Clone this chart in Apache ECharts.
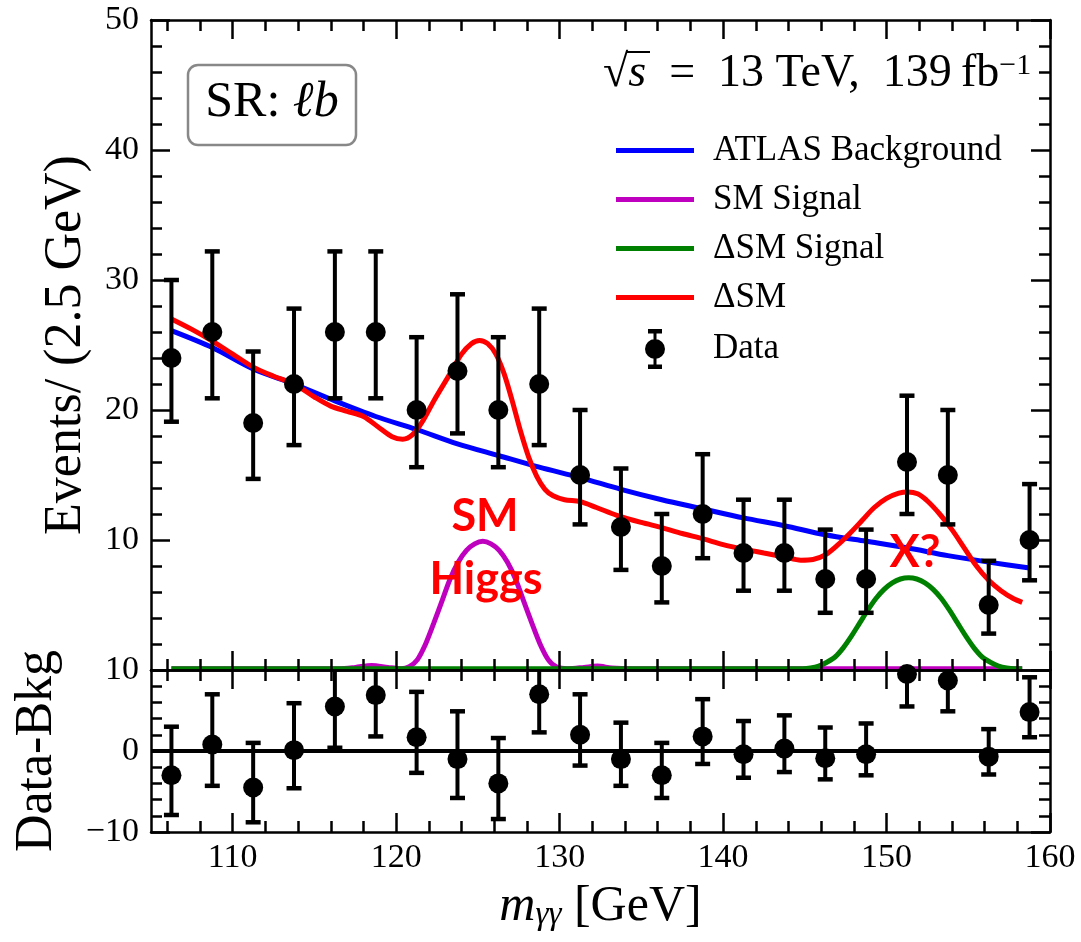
<!DOCTYPE html>
<html>
<head>
<meta charset="utf-8">
<title>m_yy SR lb</title>
<script src="https://cdn.jsdelivr.net/npm/echarts@6/dist/echarts.min.js"></script>
<style>
  html, body { margin: 0; padding: 0; background: #fff; }
  #chart { width: 1081px; height: 942px; }
</style>
</head>
<body>
<div id="chart"></div>
<script>
// bin centres (2.5 GeV bins from 105 to 160)
const massBins = [106.25, 108.75, 111.25, 113.75, 116.25, 118.75, 121.25, 123.75, 126.25, 128.75, 131.25,
  133.75, 136.25, 138.75, 141.25, 143.75, 146.25, 148.75, 151.25, 153.75, 156.25, 158.75];
const dataEvents = [24, 26, 19, 22, 26, 26, 20, 23, 20, 22, 15, 11, 8, 12, 9, 9, 7, 7, 16, 15, 5, 10];
const errDown = [4.9, 5.1, 4.3, 4.7, 5.1, 5.1, 4.4, 4.8, 4.4, 4.7, 3.8, 3.3, 2.8, 3.4, 2.9, 2.9, 2.6, 2.6, 4.0, 3.8, 2.2, 3.1];
const errUp = [6.0, 6.2, 5.5, 5.8, 6.2, 6.2, 5.6, 5.9, 5.6, 5.8, 5.0, 4.5, 4.0, 4.6, 4.1, 4.1, 3.8, 3.8, 5.1, 5.0, 3.4, 4.3];
const residuals = [-3.0, 0.8, -4.5, 0.1, 5.5, 6.9, 1.7, -1.0, -4.0, 7.0, 2.0, -1.0, -3.0, 1.8, -0.4, 0.3, -0.9, -0.4, 9.5, 8.7, -0.7, 4.8];

// ATLAS background curve
const bkgValues = [26.1, 24.8, 23.15, 22.0, 20.7, 19.5, 18.5, 17.4, 16.5, 15.6, 14.8, 13.9, 13.1, 12.4, 11.7, 11.1,
  10.4, 9.9, 9.4, 8.8, 8.3, 7.85];

// Delta SM total
const dsmMass = [106.25, 107.5, 108.75, 110, 111.25, 112.5, 113.75, 115, 116, 117, 118, 119, 119.75, 120.4, 121, 121.6,
  122.3, 123.3, 124, 124.6, 125.1, 125.6, 126.1, 126.6, 127.1, 127.6, 128.1, 128.6, 129.1, 129.6, 130.3, 131.25,
  132.25, 133.5, 135, 136.25, 137.5, 138.75, 140, 141.25, 142.5, 143.75, 144.75, 145.5, 146.25, 147, 147.75, 148.5,
  149.25, 150, 150.75, 151.3, 151.9, 152.5, 153.25, 154, 154.75, 155.5, 156.25, 157, 157.75, 158.3];
const dsmValues = [27.0, 26.2, 25.3, 24.3, 23.3, 22.6, 22.0, 21.0, 20.3, 19.9, 19.5, 18.6, 17.95, 17.75, 18.1, 19.1,
  20.7, 22.8, 24.3, 25.1, 25.35, 25.1, 24.3, 22.8, 20.7, 18.4, 16.4, 14.9, 13.9, 13.4, 13.1, 12.95,
  12.5, 11.9, 11.35, 10.95, 10.5, 10.1, 9.65, 9.3, 9.0, 8.7, 8.45, 8.5, 8.85, 9.6, 10.5, 11.5,
  12.5, 13.2, 13.6, 13.7, 13.55, 13.0, 12.0, 10.8, 9.4, 8.0, 6.9, 6.1, 5.5, 5.2];

// SM Higgs signal
const smSigMass = [106.25, 116.5, 117.5, 118.5, 119.5, 120.3, 120.8, 121.3, 121.8, 122.3, 122.8, 123.3, 123.8, 124.3,
  124.8, 125.3, 125.8, 126.3, 126.8, 127.3, 127.8, 128.3, 128.8, 129.3, 129.8, 130.5, 131.5, 132.3, 133.2, 134.5, 158.3];
const smSigValues = [0.1, 0.1, 0.2, 0.35, 0.2, 0.1, 0.25, 0.8, 2.0, 3.6, 5.3, 7.0, 8.3, 9.2,
  9.7, 9.9, 9.7, 9.2, 8.3, 7.0, 5.3, 3.6, 2.0, 0.8, 0.25, 0.1, 0.2, 0.3, 0.15, 0.1, 0.1];

// Delta SM signal
const dsmSigMass = [106.25, 144.85, 145.35, 145.85, 146.35, 146.85, 147.35, 147.85, 148.35, 148.85, 149.35, 149.85,
  150.35, 150.85, 151.35, 151.85, 152.35, 152.85, 153.35, 153.85, 154.35, 154.85, 155.35, 155.85, 156.35, 156.85,
  157.35, 157.85, 158.3];
const dsmSigValues = [0.1, 0.1, 0.15, 0.3, 0.6, 1.0, 1.7, 2.6, 3.6, 4.6, 5.5, 6.2,
  6.7, 7.0, 7.1, 7.0, 6.7, 6.2, 5.5, 4.6, 3.6, 2.6, 1.7, 1.0, 0.6, 0.3,
  0.15, 0.1, 0.1];

const majorX = [110, 120, 130, 140, 150, 160];
const minorX = [106, 108, 112, 114, 116, 118, 122, 124, 126, 128, 132, 134, 136, 138, 142, 144, 146, 148, 152, 154, 156, 158];

const SERIF = 'Liberation Serif';
const zip = (xs, ys) => xs.map((x, i) => [x, ys[i]]);

const chart = echarts.init(document.getElementById('chart'));

const frameLine = { show: true, onZero: false, lineStyle: { color: '#000', width: 2.5 } };

function xAxisPart(grid, position, ticks, len, extra) {
  return Object.assign({
    type: 'value', gridIndex: grid, position: position, min: 105, max: 160, z: 5,
    axisLine: ticks === majorX ? frameLine : { show: false, onZero: false },
    axisTick: { show: true, inside: true, length: len, customValues: ticks, lineStyle: { color: '#000', width: 2.5 } },
    axisLabel: { show: false },
    splitLine: { show: false }
  }, extra || {});
}

function yAxisPart(grid, position, min, max, extra) {
  return Object.assign({
    type: 'value', gridIndex: grid, position: position, min: min, max: max, interval: 10, z: 5,
    axisLine: frameLine,
    axisTick: { show: true, inside: true, length: 19, lineStyle: { color: '#000', width: 2.5 } },
    minorTick: { show: true, splitNumber: 5, length: 11, lineStyle: { color: '#000', width: 2.5 } },
    axisLabel: { show: false },
    splitLine: { show: false }
  }, extra || {});
}

const tickFont = { fontFamily: SERIF, fontSize: 34, color: '#000' };

// error bars with caps, clipped at the panel edge
function errorBar(params, api) {
  const cs = params.coordSys;
  const x = api.value(0);
  const top = api.coord([x, api.value(2)]);
  const bot = api.coord([x, api.value(1)]);
  const y1 = Math.max(top[1], cs.y);
  const y2 = Math.min(bot[1], cs.y + cs.height);
  const capW = 15, capH = 4.5;
  const children = [{
    type: 'line', shape: { x1: top[0], y1: y1, x2: top[0], y2: y2 },
    style: { stroke: '#000', lineWidth: 4 }
  }];
  if (top[1] >= cs.y) {
    children.push({ type: 'rect', shape: { x: top[0] - capW / 2, y: top[1] - capH / 2, width: capW, height: capH }, style: { fill: '#000' } });
  }
  if (bot[1] <= cs.y + cs.height) {
    children.push({ type: 'rect', shape: { x: bot[0] - capW / 2, y: bot[1] - capH / 2, width: capW, height: capH }, style: { fill: '#000' } });
  }
  return { type: 'group', children: children };
}

const upperErr = massBins.map((m, i) => [m, dataEvents[i] - errDown[i], dataEvents[i] + errUp[i]]);
const lowerErr = massBins.map((m, i) => [m, residuals[i] - errDown[i], residuals[i] + errUp[i]]);

const lineIcon = 'path://M0,0H78V5H0Z';
const dataIcon = 'path://M8.5,0H11.5V40H8.5Z M3,0H17V4.5H3Z M3,35.5H17V40H3Z M0,20A10,10 0 1,1 20,20A10,10 0 1,1 0,20Z';

function curve(name, xs, ys, color) {
  return {
    type: 'line', name: name, xAxisIndex: 0, yAxisIndex: 0,
    data: zip(xs, ys), showSymbol: false, smooth: 0.3, z: 2,
    color: color,
    lineStyle: { color: color, width: 5 },
    itemStyle: { color: color }
  };
}

function serifText(size, extra) {
  return Object.assign({ fontFamily: SERIF, fontSize: size, fill: '#000' }, extra || {});
}

const option = {
  animation: false,
  backgroundColor: '#fff',
  grid: [
    { left: 151, top: 20, width: 899, height: 650 },
    { left: 151, top: 670, width: 899, height: 162 }
  ],
  xAxis: [
    xAxisPart(0, 'bottom', majorX, 19),
    xAxisPart(0, 'bottom', minorX, 11),
    xAxisPart(0, 'top', majorX, 19),
    xAxisPart(0, 'top', minorX, 11),
    xAxisPart(1, 'bottom', majorX, 19, {
      axisLabel: Object.assign({ show: true, customValues: majorX, margin: 9 }, tickFont),
      name: '{i|m}{sub|\u03b3\u03b3} [GeV]',
      nameLocation: 'middle',
      nameGap: 50,
      nameTextStyle: {
        fontFamily: SERIF, fontSize: 50, color: '#000',
        rich: {
          i: { fontFamily: SERIF, fontSize: 50, fontStyle: 'italic', color: '#000' },
          sub: { fontFamily: SERIF, fontSize: 33, fontStyle: 'italic', color: '#000', verticalAlign: 'bottom', padding: [14, 0, 0, 0] }
        }
      }
    }),
    xAxisPart(1, 'bottom', minorX, 11),
    xAxisPart(1, 'top', majorX, 19),
    xAxisPart(1, 'top', minorX, 11)
  ],
  yAxis: [
    yAxisPart(0, 'left', 0, 50, {
      axisLabel: Object.assign({ show: true, margin: 12, formatter: v => (v === 0 ? '' : String(v)) }, tickFont),
      name: 'Events/ (2.5 GeV)',
      nameLocation: 'middle',
      nameGap: 59,
      nameTextStyle: { fontFamily: SERIF, fontSize: 52, color: '#000' }
    }),
    yAxisPart(0, 'right', 0, 50),
    yAxisPart(1, 'left', -10, 10, {
      axisLabel: Object.assign({ show: true, margin: 12, formatter: v => (v < 0 ? '\u2212' + Math.abs(v) : String(v)) }, tickFont),
      name: 'Data-Bkg',
      nameLocation: 'middle',
      nameGap: 88,
      nameTextStyle: { fontFamily: SERIF, fontSize: 52, color: '#000' }
    }),
    yAxisPart(1, 'right', -10, 10)
  ],
  legend: {
    orient: 'vertical',
    left: 611,
    top: 128,
    itemWidth: 78,
    itemHeight: 40,
    itemGap: 14,
    selectedMode: false,
    textStyle: { fontFamily: SERIF, fontSize: 35, color: '#000', padding: [0, 0, 0, 14] },
    data: [
      { name: 'ATLAS Background', icon: lineIcon, itemStyle: { color: '#0000ff', borderWidth: 0 } },
      { name: 'SM Signal', icon: lineIcon, itemStyle: { color: '#bf00bf', borderWidth: 0 } },
      { name: '\u0394SM Signal', icon: lineIcon, itemStyle: { color: '#008000', borderWidth: 0 } },
      { name: '\u0394SM', icon: lineIcon, itemStyle: { color: '#ff0000', borderWidth: 0 } },
      { name: 'Data', icon: dataIcon, itemStyle: { color: '#000', borderWidth: 0, opacity: 1 } }
    ]
  },
  graphic: [
    {
      type: 'group', z: 10,
      children: [
        { type: 'rect', shape: { x: 188, y: 65, width: 168, height: 80, r: 10 }, style: { fill: '#fff', stroke: '#888', lineWidth: 2.5 } },
        {
          type: 'text', x: 272, y: 103,
          style: serifText(50, {
            text: 'SR: {i|\u2113b}', align: 'center', verticalAlign: 'middle',
            rich: { i: serifText(50, { fontStyle: 'italic' }) }
          })
        }
      ]
    },
    {
      type: 'text', x: 603, y: 74, z: 10,
      style: serifText(46, {
        text: '\u221a{i|s}\u2002=\u200213 TeV,\u2002139\u2009fb{sup|\u22121}', align: 'left', verticalAlign: 'middle',
        rich: {
          i: serifText(46, { fontStyle: 'italic' }),
          sup: serifText(30, { verticalAlign: 'top' })
        }
      })
    },
    { type: 'line', z: 10, shape: { x1: 626, y1: 52, x2: 650, y2: 52 }, style: { stroke: '#000', lineWidth: 2 } },
    { type: 'text', x: 485, y: 516, z: 10, style: { text: 'SM', align: 'center', verticalAlign: 'middle', fontFamily: 'Lato', fontWeight: 'bold', fontSize: 45, fill: '#ff0000' } },
    { type: 'text', x: 486, y: 579, z: 10, style: { text: 'Higgs', align: 'center', verticalAlign: 'middle', fontFamily: 'Lato', fontWeight: 'bold', fontSize: 45, fill: '#ff0000' } },
    { type: 'text', x: 915, y: 552, z: 10, style: { text: 'X?', align: 'center', verticalAlign: 'middle', fontFamily: 'Lato', fontWeight: 'bold', fontSize: 45, fill: '#ff0000' } }
  ],
  series: [
    curve('ATLAS Background', massBins, bkgValues, '#0000ff'),
    curve('SM Signal', smSigMass, smSigValues, '#bf00bf'),
    curve('\u0394SM Signal', dsmSigMass, dsmSigValues, '#008000'),
    curve('\u0394SM', dsmMass, dsmValues, '#ff0000'),
    {
      type: 'custom', name: 'Data errors', xAxisIndex: 0, yAxisIndex: 0, z: 3,
      renderItem: errorBar, encode: { x: 0, y: [1, 2] }, data: upperErr
    },
    {
      type: 'scatter', name: 'Data', xAxisIndex: 0, yAxisIndex: 0, z: 4,
      symbolSize: 20, itemStyle: { color: '#000', opacity: 1 }, data: zip(massBins, dataEvents)
    },
    {
      type: 'custom', name: 'Residual errors', xAxisIndex: 4, yAxisIndex: 2, z: 3,
      renderItem: errorBar, encode: { x: 0, y: [1, 2] }, data: lowerErr
    },
    {
      type: 'scatter', name: 'Residual', xAxisIndex: 4, yAxisIndex: 2, z: 4,
      symbolSize: 20, itemStyle: { color: '#000', opacity: 1 }, data: zip(massBins, residuals),
      markLine: {
        silent: true, symbol: ['none', 'none'], label: { show: false },
        lineStyle: { color: '#000', width: 4, type: 'solid', opacity: 1 },
        data: [{ yAxis: 0 }]
      }
    }
  ]
};

chart.setOption(option);
</script>
</body>
</html>
